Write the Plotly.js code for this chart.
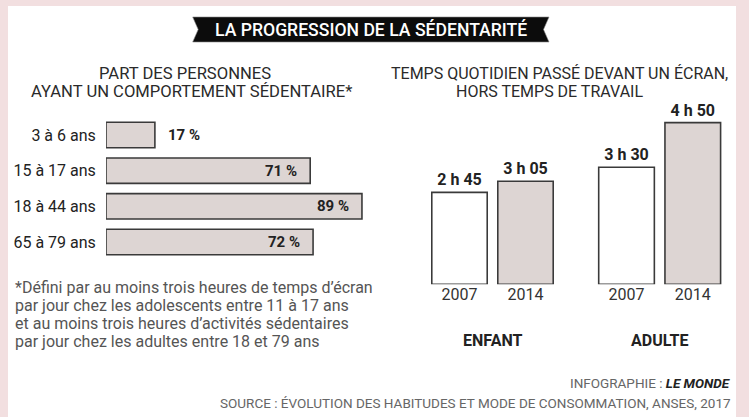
<!DOCTYPE html>
<html>
<head>
<meta charset="utf-8">
<script src="https://cdn.plot.ly/plotly-3.0.1.min.js"></script>
<style>
  html, body { margin: 0; padding: 0; background: #f2dfe0; }
  #chart { width: 749px; height: 417px; }
</style>
</head>
<body>
<div id="chart"></div>
<script>
// ---------- DATA ----------
const ageGroups = ['3 à 6 ans', '15 à 17 ans', '18 à 44 ans', '65 à 79 ans'];
const sedentaryPct = [17, 71, 89, 72];

const screenGroups = ['ENFANT', 'ADULTE'];
const years = ['2007', '2014'];
const enfantMinutes = [165, 185];
const adulteMinutes = [210, 290];
const enfantLabels = ['2 h 45', '3 h 05'];
const adulteLabels = ['3 h 30', '4 h 50'];

const mainTitle = 'LA PROGRESSION DE LA SÉDENTARITÉ';
const leftSubtitle = ['PART DES PERSONNES', 'AYANT UN COMPORTEMENT SÉDENTAIRE*'];
const rightSubtitle = ['TEMPS QUOTIDIEN PASSÉ DEVANT UN ÉCRAN,', 'HORS TEMPS DE TRAVAIL'];
const footnoteLines = [
  '*Défini par au moins trois heures de temps d’écran',
  'par jour chez les adolescents entre 11 à 17 ans',
  'et au moins trois heures d’activités sédentaires',
  'par jour chez les adultes entre 18 et 79 ans'
];
const creditPrefix = 'INFOGRAPHIE : ';
const creditName = 'LE MONDE';
const sourceText = 'SOURCE : ÉVOLUTION DES HABITUDES ET MODE DE CONSOMMATION, ANSES, 2017';

// ---------- HELPERS ----------
const W = 749, H = 417;
const px = x => x / W;
const py = y => 1 - y / H;
const FONT = 'Roboto, "Open Sans", sans-serif';
const BAR_FILL = '#ddd5d3';
const BAR_LINE = '#3a3a3a';

// ---------- TRACES ----------
const traces = [
  {
    type: 'bar', orientation: 'h',
    y: ageGroups, x: sedentaryPct,
    width: 0.714,
    marker: { color: BAR_FILL, line: { color: BAR_LINE, width: 1.6 } },
    xaxis: 'x', yaxis: 'y', hoverinfo: 'skip'
  },
  {
    type: 'bar', x: years, y: enfantMinutes,
    text: enfantLabels, textposition: 'outside', cliponaxis: false,
    textfont: { family: FONT, size: 16, color: '#222', weight: 'bold' },
    marker: { color: ['#ffffff', BAR_FILL], line: { color: BAR_LINE, width: 1.6 } },
    xaxis: 'x2', yaxis: 'y2', hoverinfo: 'skip'
  },
  {
    type: 'bar', x: years, y: adulteMinutes,
    text: adulteLabels, textposition: 'outside', cliponaxis: false,
    textfont: { family: FONT, size: 16, color: '#222', weight: 'bold' },
    marker: { color: ['#ffffff', BAR_FILL], line: { color: BAR_LINE, width: 1.6 } },
    xaxis: 'x3', yaxis: 'y3', hoverinfo: 'skip'
  }
];

// ---------- ANNOTATIONS ----------
const annotations = [];
annotations.push({
  xref: 'paper', yref: 'paper', x: px(371), y: py(29.5),
  xanchor: 'center', yanchor: 'middle', showarrow: false,
  text: mainTitle, font: { family: FONT, size: 17.6, color: '#ffffff', weight: 500 }
});
const subY = [73, 92];
const leftSubX = [185, 191];
const rightSubX = [559, 549];
leftSubtitle.forEach((t, i) => annotations.push({
  xref: 'paper', yref: 'paper', x: px(leftSubX[i]), y: py(subY[i]),
  xanchor: 'center', yanchor: 'middle', showarrow: false,
  text: t, font: { family: FONT, size: 16.6, color: '#2a2a2a' }
}));
rightSubtitle.forEach((t, i) => annotations.push({
  xref: 'paper', yref: 'paper', x: px(rightSubX[i]), y: py(subY[i]),
  xanchor: 'center', yanchor: 'middle', showarrow: false,
  text: t, font: { family: FONT, size: 16, color: '#2a2a2a' }
}));
// value labels on horizontal bars
sedentaryPct.forEach((v, i) => {
  const outside = v < 30;
  annotations.push({
    xref: 'x', yref: 'y', x: v, y: ageGroups[i],
    xanchor: outside ? 'left' : 'right', xshift: outside ? 11 : -11,
    yanchor: 'middle', showarrow: false,
    text: v + ' %', font: { family: FONT, size: 15, color: '#222', weight: 'bold' }
  });
});
// group labels
['x2', 'x3'].forEach((ax, i) => annotations.push({
  xref: ax + ' domain', yref: 'paper', x: 0.5, y: py(340),
  xanchor: 'center', yanchor: 'middle', showarrow: false,
  text: '<b>' + screenGroups[i] + '</b>', font: { family: FONT, size: 16, color: '#222' }
}));
// footnote
footnoteLines.forEach((t, i) => annotations.push({
  xref: 'paper', yref: 'paper', x: px(13), y: py(287 + i * 18),
  xanchor: 'left', yanchor: 'middle', showarrow: false,
  text: t, font: { family: FONT, size: 16, color: '#555' }
}));
// credits
annotations.push({
  xref: 'paper', yref: 'paper', x: px(733), y: py(383),
  xanchor: 'right', yanchor: 'middle', showarrow: false,
  text: creditPrefix + '<b><i><span style="color:#222">' + creditName + '</span></i></b>',
  font: { family: FONT, size: 13.5, color: '#666' }
});
annotations.push({
  xref: 'paper', yref: 'paper', x: px(733), y: py(403),
  xanchor: 'right', yanchor: 'middle', showarrow: false,
  text: sourceText, font: { family: FONT, size: 13.5, color: '#666' }
});

// ---------- SHAPES ----------
const bx0 = 192.7, bx1 = 549, by0 = 17, by1 = 42, notch = 5.5;
const bannerPath = [
  'M', px(bx0), py(by0), 'L', px(bx1), py(by0), 'L', px(bx1 - notch), py((by0 + by1) / 2),
  'L', px(bx1), py(by1), 'L', px(bx0), py(by1), 'L', px(bx0 + notch), py((by0 + by1) / 2), 'Z'
].join(' ');
const shapes = [
  { type: 'rect', xref: 'paper', yref: 'paper', layer: 'below',
    x0: px(8), x1: px(736), y0: py(417), y1: py(6),
    fillcolor: '#ffffff', line: { width: 0 } },
  { type: 'path', xref: 'paper', yref: 'paper', layer: 'above',
    path: bannerPath, fillcolor: '#0c0c0c', line: { color: '#888', width: 0.6 } }
];

// ---------- LAYOUT ----------
const hiddenAxis = { visible: false, showgrid: false, zeroline: false, fixedrange: true };
const yearAxis = {
  type: 'category',
  showgrid: false, zeroline: false, showline: false,
  ticks: '', ticklabelstandoff: -1,
  tickfont: { family: FONT, size: 16, color: '#333' }, fixedrange: true
};
const layout = {
  width: W, height: H,
  margin: { l: 0, r: 0, t: 0, b: 0, pad: 0 },
  paper_bgcolor: '#f2dfe0',
  plot_bgcolor: 'rgba(0,0,0,0)',
  showlegend: false,
  bargap: 0.16,
  font: { family: FONT },
  xaxis: Object.assign({}, hiddenAxis, { domain: [px(106), px(393.6)], range: [0, 100], anchor: 'y' }),
  yaxis: {
    domain: [py(259.85), py(117.15)], type: 'category', range: [3.5, -0.5], anchor: 'x',
    showgrid: false, zeroline: false, showline: false,
    ticks: 'outside', ticklen: 6, tickcolor: 'rgba(0,0,0,0)',
    tickfont: { family: FONT, size: 16, color: '#222' }, fixedrange: true
  },
  xaxis2: Object.assign({}, yearAxis, { domain: [px(426.5), px(558.5)], anchor: 'y2' }),
  yaxis2: Object.assign({}, hiddenAxis, { domain: [py(284.3), py(117.1)], range: [0, 300], anchor: 'x2' }),
  xaxis3: Object.assign({}, yearAxis, { domain: [px(593.4), px(725.9)], anchor: 'y3' }),
  yaxis3: Object.assign({}, hiddenAxis, { domain: [py(284.3), py(117.1)], range: [0, 300], anchor: 'x3' }),
  annotations: annotations,
  shapes: shapes
};

Plotly.newPlot('chart', traces, layout, { staticPlot: true, displayModeBar: false });
</script>
</body>
</html>
